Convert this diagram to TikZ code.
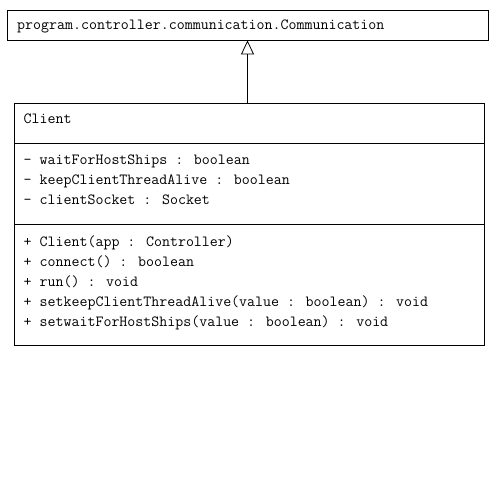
\documentclass[tikz,border=0pt]{standalone}
\usepackage{fontspec}
\usetikzlibrary{arrows.meta}
\begin{document}
\begin{tikzpicture}[x=1pt,y=-1pt,
  box/.style={draw=black,line width=0.8pt,rectangle,inner sep=0pt},
  txt/.style={anchor=base west,inner sep=0pt,font=\fontsize{15.5}{18}\ttfamily},
  gen/.style={draw=black,line width=0.8pt,-{Triangle[open,width=13pt,length=14pt]}}]
\useasboundingbox (0,0) rectangle (503,497);
\node[box,minimum width=481pt,minimum height=30pt] (comm) at (247.5,25) {};
\node[box,minimum width=470pt,minimum height=242pt] (client) at (249,224) {};
\coordinate (s1l) at (14,143); \coordinate (s1r) at (484,143);
\coordinate (s2l) at (14,224); \coordinate (s2r) at (484,224);
\draw[line width=0.8pt] (s1l) -- (s1r);
\draw[line width=0.8pt] (s2l) -- (s2r);
\node[txt] (commname) at (17,30) {program.controller.communication.Communication};
\node[txt] (cname) at (23.5,123.5) {Client};
\node[txt] (a1) at (23.5,164.5) {- waitForHostShips : boolean};
\node[txt] (a2) at (23.5,184.5) {- keepClientThreadAlive : boolean};
\node[txt] (a3) at (23.5,204.5) {- clientSocket : Socket};
\node[txt] (m1) at (23.5,246) {+ Client(app : Controller)};
\node[txt] (m2) at (23.5,266) {+ connect() : boolean};
\node[txt] (m3) at (23.5,286) {+ run() : void};
\node[txt] (m4) at (23.5,306) {+ setkeepClientThreadAlive(value : boolean) : void};
\node[txt] (m5) at (23.5,326) {+ setwaitForHostShips(value : boolean) : void};
\draw[gen] (comm.south |- client.north) -- (comm.south);
\end{tikzpicture}
\end{document}
